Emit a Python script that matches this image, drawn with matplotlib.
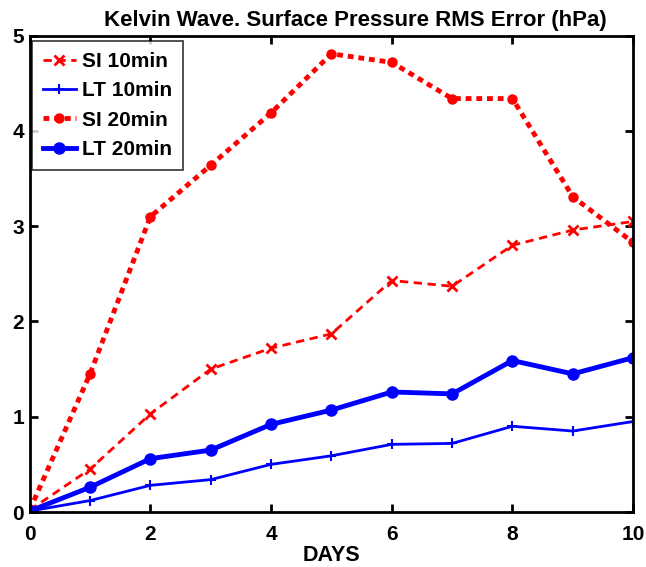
import matplotlib
matplotlib.use('Agg')
import matplotlib.pyplot as plt

plt.rcParams['font.family'] = ['Liberation Sans', 'DejaVu Sans']
plt.rcParams['font.weight'] = 'bold'

days = [0, 1, 2, 3, 4, 5, 6, 7, 8, 9, 10]
si_10 = [0.02, 0.45, 1.03, 1.50, 1.72, 1.87, 2.43, 2.37, 2.80, 2.96, 3.05]
lt_10 = [0.01, 0.12, 0.28, 0.34, 0.50, 0.59, 0.71, 0.72, 0.90, 0.85, 0.95]
si_20 = [0.02, 1.45, 3.10, 3.64, 4.19, 4.81, 4.72, 4.34, 4.34, 3.31, 2.83]
lt_20 = [0.01, 0.26, 0.56, 0.65, 0.92, 1.07, 1.26, 1.24, 1.59, 1.45, 1.62]

fig = plt.figure(figsize=(6.46, 5.67), dpi=100)
ax = fig.add_axes([0.046, 0.097, 0.934, 0.84])

ax.plot(days, si_10, color='red', linestyle=(0, (3, 2)), linewidth=2, marker='x',
        markersize=7, markeredgewidth=2, label='SI 10min')
ax.plot(days, lt_10, color='blue', linestyle='-', linewidth=2, marker='+',
        markersize=7, markeredgewidth=1.5, label='LT 10min')
ax.plot(days, si_20, color='red', linestyle=(0, (1.2, 1)), linewidth=3.5, marker='o',
        markersize=6.5, label='SI 20min')
ax.plot(days, lt_20, color='blue', linestyle='-', linewidth=3.5, marker='o',
        markersize=8, label='LT 20min')

ax.set_xlim(0, 10)
ax.set_ylim(0, 5)
ax.set_xticks([0, 2, 4, 6, 8, 10])
ax.set_yticks([0, 1, 2, 3, 4, 5])
ax.tick_params(direction='in', length=6, width=2, labelsize=15, top=True, right=True)
ax.tick_params(axis='x', pad=9)
ax.tick_params(axis='y', pad=4)
for lbl in ax.get_xticklabels() + ax.get_yticklabels():
    lbl.set_fontweight('bold')
for sp in ax.spines.values():
    sp.set_linewidth(2)

ax.set_xlabel('DAYS', fontsize=15.5, fontweight='bold', labelpad=1)
ax.set_title('Kelvin Wave. Surface Pressure RMS Error (hPa)', fontsize=16,
             fontweight='bold', pad=7, x=0.54)

leg = ax.legend(loc='upper left', bbox_to_anchor=(0.004, 0.988), fontsize=15,
                frameon=True, fancybox=False, edgecolor='black', borderaxespad=0,
                handlelength=1.6, handletextpad=0.3, labelspacing=0.5, borderpad=0.5)
leg.get_frame().set_linewidth(1.2)
for t in leg.get_texts():
    t.set_fontweight('bold')

fig.savefig('out.png', dpi=100)
